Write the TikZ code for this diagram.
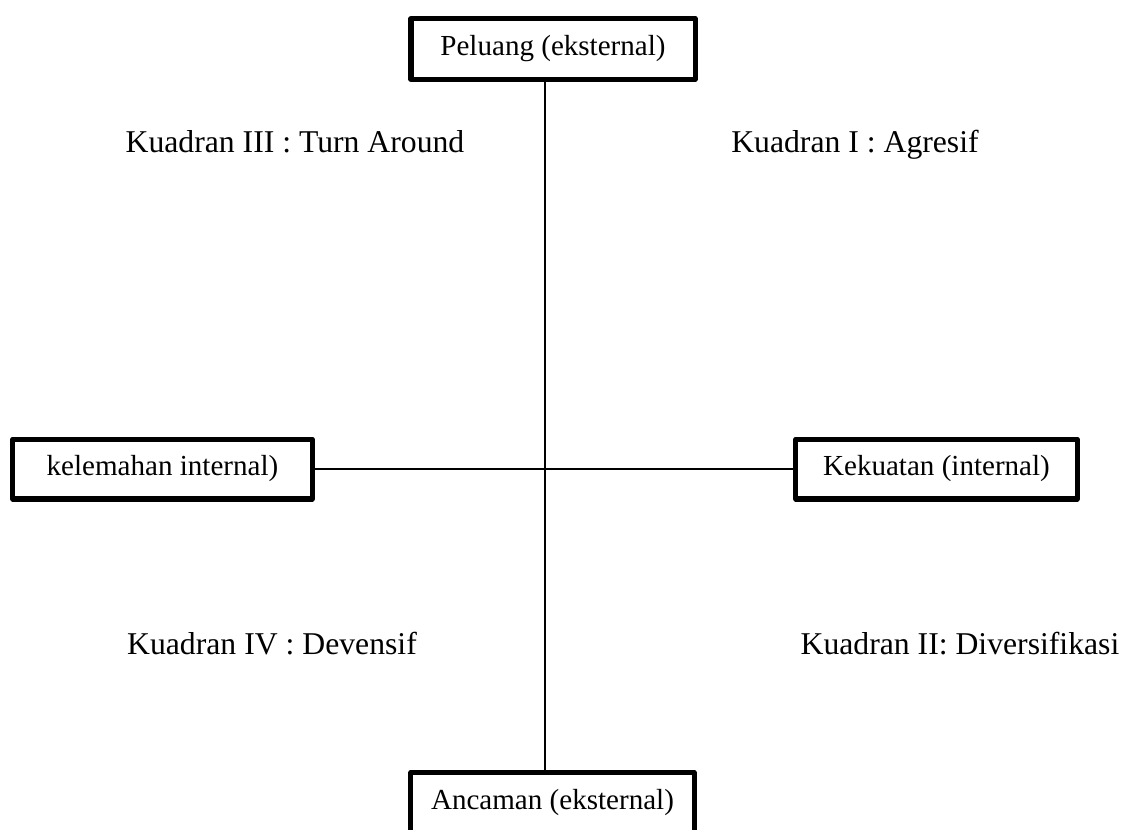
\documentclass[tikz,border=0pt]{standalone}
\usepackage{fontspec}
\setmainfont{Liberation Serif}
\usepackage{tikz}
\usetikzlibrary{positioning}

\begin{document}
\begin{tikzpicture}[x=0.3785pt, y=-0.3785pt,
    kotak/.style={draw=black, line width=1.9pt, line join=round, fill=white,
        minimum height=23pt, inner sep=0pt, font=\fontsize{11}{13}\selectfont},
    kuadran/.style={anchor=base, inner sep=0pt, font=\fontsize{12}{14}\selectfont},
    garis/.style={black, line width=0.75pt}]
    \clip (0,0) rectangle (1125,830);
    \fill[white] (0,0) rectangle (1125,830);
    % kotak faktor
    \node[kotak, minimum width=107.5pt] (peluang) at (553,49) {Peluang (eksternal)};
    \node[kotak, minimum width=107.2pt] (ancaman) at (552.5,803) {Ancaman (eksternal)};
    \node[kotak, minimum width=113.2pt, minimum height=22.7pt] (kelemahan) at (162.5,469) {kelemahan internal)};
    \node[kotak, minimum width=106.4pt, minimum height=22.7pt] (kekuatan) at (936.5,469) {Kekuatan (internal)};
    \coordinate (pusat) at (545,470);
    % sumbu
    \draw[garis] (peluang.south -| pusat) -- (ancaman.north -| pusat);
    \draw[garis] (kelemahan.east) -- (kekuatan.west);
    % label kuadran
    \node[kuadran] (k3) at (295,152) {Kuadran III : Turn Around};
    \node[kuadran] (k1) at (855,152) {Kuadran I : Agresif};
    \node[kuadran] (k4) at (272,654) {Kuadran IV : Devensif};
    \node[kuadran] (k2) at (960,654) {Kuadran II: Diversifikasi};
\end{tikzpicture}
\end{document}
